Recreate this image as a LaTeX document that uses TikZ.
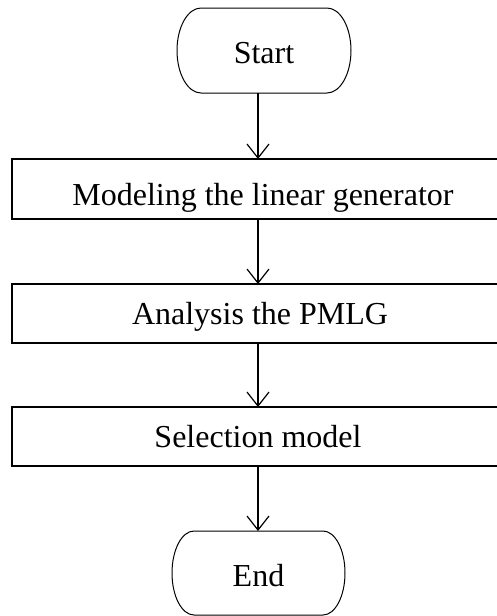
\documentclass[tikz,border=0pt]{standalone}
\usepackage{fontspec}
\setmainfont{Liberation Serif}
\usetikzlibrary{arrows.meta}
\begin{document}
\begin{tikzpicture}[x=1pt,y=1pt,
  every node/.style={inner sep=0pt,outer sep=0pt,font=\fontsize{32}{38}\selectfont},
  stepbox/.style={draw,line width=1.2pt,rectangle,minimum width=492pt,minimum height=59pt,text height=24pt,text depth=3pt},
  terminal/.style={rectangle,draw=none,text height=27pt,text depth=1pt},
  arr/.style={line width=1.2pt,-{Straight Barb[length=14pt,width=22pt,line width=1.2pt]}},
  outline/.style={line width=1pt}]
\useasboundingbox (0,0) rectangle (497,-616);
\clip (0,0) rectangle (497,-616);
% terminals
\node[terminal,minimum width=174pt,minimum height=85pt] (start) at (264,-50.5) {Start};
\node[terminal,minimum width=173pt,minimum height=84pt] (end) at (258.5,-573) {End};
\draw[outline] ([xshift=24pt]start.north west) -- ([xshift=-24pt]start.north east)
  arc[start angle=90,end angle=-90,x radius=24pt,y radius=42.5pt]
  -- ([xshift=24pt]start.south west)
  arc[start angle=270,end angle=90,x radius=24pt,y radius=42.5pt] -- cycle;
\draw[outline] ([xshift=22pt]end.north west) -- ([xshift=-22pt]end.north east)
  arc[start angle=90,end angle=-90,x radius=22pt,y radius=42pt]
  -- ([xshift=22pt]end.south west)
  arc[start angle=270,end angle=90,x radius=22pt,y radius=42pt] -- cycle;
% process steps
\node[stepbox,minimum height=60pt,text height=33pt,text depth=0pt] (m1) at (258,-189) {\hspace*{10pt}Modeling the linear generator};
\node[stepbox] (m2) at (258,-313.5) {\hspace*{4pt}Analysis the PMLG};
\node[stepbox] (m3) at (258,-436.5) {Selection model};
% connectors
\draw[arr] (start.south -| m1.north) -- (m1.north);
\draw[arr] (m1.south) -- (m2.north);
\draw[arr] (m2.south) -- (m3.north);
\draw[arr] (m3.south) -- (end.north -| m3.south);
\end{tikzpicture}
\end{document}
